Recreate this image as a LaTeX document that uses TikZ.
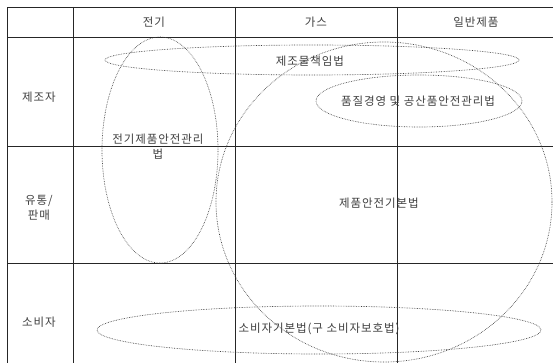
\documentclass[tikz,border=0pt]{standalone}
\usepackage{fontspec}
\setmainfont[LetterSpace=8]{Noto Sans CJK KR}
\usetikzlibrary{shapes.geometric}
\begin{document}
\begin{tikzpicture}[x=1pt,y=-1pt,
 grid/.style={draw=black!85, line width=0.8pt},
 law/.style={draw=black!75, densely dotted, line width=0.65pt, ellipse, inner sep=0pt},
 lbl/.style={text=black!75, font=\fontsize{11.5}{15}\selectfont, inner sep=0pt, align=center}]
\useasboundingbox[fill=white] (0,0) rectangle (553,363);
% table grid
\draw[grid] (7,363) -- (7,7) -- (553,7);
\draw[grid] (73,7) -- (73,363);
\draw[grid] (235,7) -- (235,363);
\draw[grid] (397,7) -- (397,363);
\draw[grid] (7,37) -- (553,37);
\draw[grid] (7,146) -- (553,146);
\draw[grid] (7,263) -- (553,263);
% headers
\node[lbl] (h1) at (154,22) {전기};
\node[lbl] (h2) at (316,22) {가스};
\node[lbl] (h3) at (476,22) {일반제품};
\node[lbl] (r1) at (39,97) {제조자};
\node[lbl] (r2) at (39,208) {유통/\\판매};
\node[lbl] (r3) at (39,322) {소비자};
% law ellipses
\node[law, minimum width=414pt, minimum height=30pt] (e1) at (312,60) {};
\node[law, minimum width=116pt, minimum height=226pt] (e2) at (160,150) {};
\node[law, minimum width=336pt, minimum height=320pt] (e3) at (384,202) {};
\node[law, minimum width=206pt, minimum height=52pt] (e4) at (419,101) {};
\node[law, minimum width=444pt, minimum height=48pt] (e5) at (319,330) {};
% labels
\node[lbl] (t1) at (310,61) {제조물책임법};
\node[lbl] (t2) at (158,147) {전기제품안전관리\\법};
\node[lbl] (t3) at (379,203) {제품안전기본법};
\node[lbl] (t4) at (418,101) {품질경영 및 공산품안전관리법};
\node[lbl] (t5) at (319,329) {소비자기본법(구 소비자보호법)};
\end{tikzpicture}
\end{document}
